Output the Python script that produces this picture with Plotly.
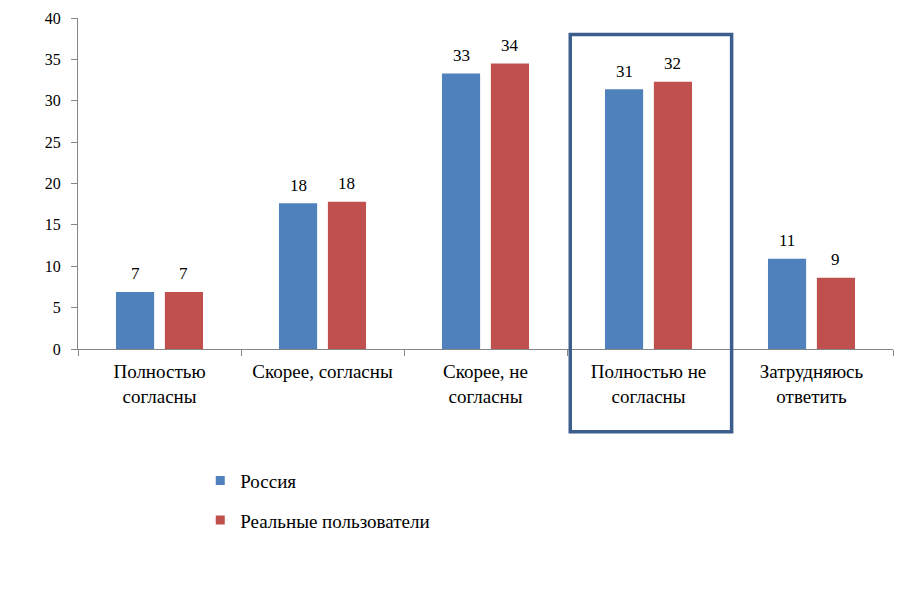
import plotly.graph_objects as go

categories = ["Полностью<br>согласны", "Скорее, согласны", "Скорее, не<br>согласны",
              "Полностью не<br>согласны", "Затрудняюсь<br>ответить"]
russia = [6.9, 17.6, 33.3, 31.4, 10.9]
real_users = [6.9, 17.8, 34.5, 32.3, 8.6]
series_names = ["Россия", "Реальные пользователи"]
y_ticks = [0, 5, 10, 15, 20, 25, 30, 35, 40]

FONT = "Liberation Serif, serif"
colors = ["#4F81BD", "#C0504D"]

fig = go.Figure()
for name, vals, col, grp in [(series_names[0], russia, colors[0], "a"),
                             (series_names[1], real_users, colors[1], "b")]:
    fig.add_trace(go.Bar(x=categories, y=vals, name=name, marker_color=col,
                         marker_line_width=0, legendgroup=grp, showlegend=False))
    fig.add_trace(go.Scatter(x=[None], y=[None], mode="markers", name=name,
                             marker=dict(symbol="square", size=9, color=col),
                             legendgroup=grp))

# value labels placed above each bar through the axes
slot = (1 - 0.4) / 2
for i, cat in enumerate(categories):
    for k, vals in enumerate([russia, real_users]):
        fig.add_annotation(x=i + (k - 0.5) * slot, y=vals[i], xref="x", yref="y",
                           text=f"{vals[i]:.0f}", showarrow=False, yanchor="middle",
                           yshift=18, font=dict(family=FONT, size=17, color="black"))

fig.add_shape(type="rect", xref="x", yref="paper", x0=2.52, x1=3.51, y0=-0.25, y1=0.95,
              line=dict(color="#3B5E8C", width=3.5), fillcolor="rgba(0,0,0,0)", layer="above")

fig.update_layout(
    width=887, height=583,
    margin=dict(l=70, r=2, t=6, b=242),
    plot_bgcolor="white", paper_bgcolor="white",
    barmode="group", bargap=0.4, bargroupgap=0.22,
    font=dict(family=FONT, size=19, color="black"),
    showlegend=True,
    legend=dict(x=0.15, y=-0.34, xanchor="left", yanchor="top", orientation="v",
                traceorder="grouped", tracegroupgap=12, itemwidth=30,
                font=dict(family=FONT, size=19, color="black"), bgcolor="rgba(0,0,0,0)"),
)
fig.update_yaxes(range=[0, 40], tickvals=y_ticks, showgrid=False, showline=True,
                 linecolor="#868686", linewidth=1, ticks="outside", ticklen=6,
                 tickcolor="#868686", zeroline=False, ticklabeloverflow="allow",
                 ticklabelstandoff=7,
                 tickfont=dict(family=FONT, size=16, color="black"))
fig.update_xaxes(showgrid=False, showline=True, linecolor="#868686", linewidth=1,
                 ticks="outside", ticklen=6, tickcolor="#868686", tickson="boundaries",
                 tickfont=dict(family=FONT, size=19, color="black"), ticklabelstandoff=5)

fig.write_html("out.html")
